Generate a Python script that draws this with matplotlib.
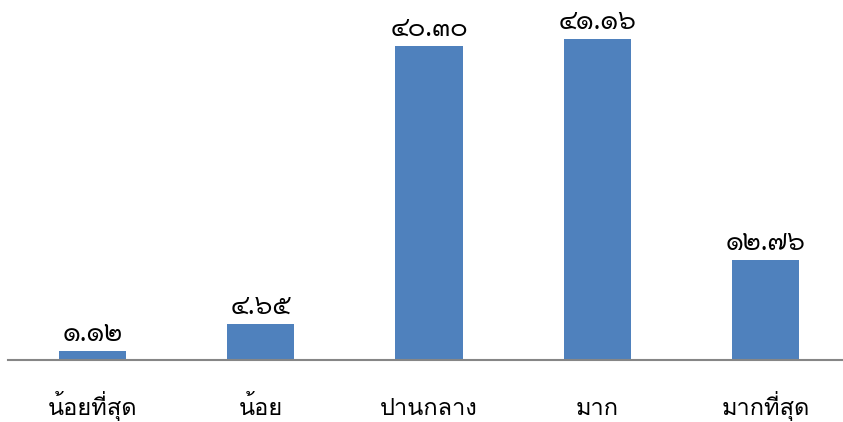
import matplotlib
matplotlib.use('Agg')
import matplotlib.pyplot as plt

categories = ['น้อยที่สุด', 'น้อย', 'ปานกลาง', 'มาก', 'มากที่สุด']
values = [1.12, 4.65, 40.30, 41.16, 12.76]
value_labels = ['๑.๑๒', '๔.๖๕', '๔๐.๓๐', '๔๑.๑๖', '๑๒.๗๖']

plt.rcParams['font.family'] = ['Sarabun', 'DejaVu Sans']

W, H = 843, 422
fig = plt.figure(figsize=(W/100, H/100), dpi=100)
ax = fig.add_axes([8.35/W, (H-360)/H, 841.5/W, 351/H])
x = list(range(len(categories)))
ax.bar(x, values, width=0.4, color='#4F81BD', zorder=2)
ax.set_xlim(-0.5, 4.5)
ax.set_ylim(0, 45)
for s in ['top', 'right', 'left']:
    ax.spines[s].set_visible(False)
ax.spines['bottom'].set_color('#868686')
ax.spines['bottom'].set_linewidth(1.5)
ax.spines['bottom'].set_zorder(3)
ax.set_yticks([])
ax.set_xticks(x)
ax.set_xticklabels([''] * len(x))
ax.tick_params(axis='x', length=0)
for xi, cat in zip(x, categories):
    ax.annotate(cat, (xi, 0), xycoords=('data', 'axes fraction'),
                xytext=(0, -55), textcoords='offset pixels',
                ha='center', va='baseline', fontsize=17, color='#000000',
                family=['Loma', 'DejaVu Sans'], fontweight='normal',
                annotation_clip=False)
for xi, v, lab in zip(x, values, value_labels):
    ax.annotate(lab, (xi, v), xytext=(0, 10), textcoords='offset pixels',
                ha='center', va='baseline', fontsize=19, color='#000000',
                fontweight='normal')
fig.savefig('out.png', dpi=100)
